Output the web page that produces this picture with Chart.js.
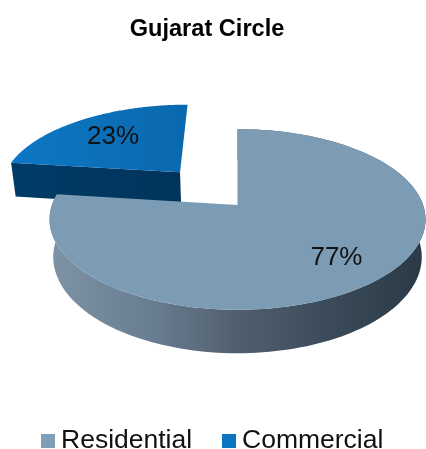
<!DOCTYPE html>
<html><head><meta charset="utf-8">
<script src="https://cdn.jsdelivr.net/npm/chart.js@4"></script>
<style>html,body{margin:0;padding:0;background:#fff}#w{width:426px;height:449px;position:relative}canvas{display:block}</style>
</head><body><div id="w"><canvas id="c" width="426" height="449"></canvas></div>
<script>
const categories = ['Residential','Commercial'];
const values = [77,23];
const percentLabels = ['77%','23%'];
const colors = ['#7b9cb4','#0a6fba'];
const legendColors = ['#7f9fb8','#0a75c2'];
const chartTitle = 'Gujarat Circle';

// projected-disc geometry of the 3D pie
const view = {cx:237.5, cy:205, rx:185.6, ry:88, persp:0.16, depth:36.5, baseScale:0.98};
const explode = [0, 0.46];
const labelSpot = [0.735, 0.66];

function project(u,v,t){
  const k = 1 - view.persp*v;
  const sx = 1 - (1-view.baseScale)*t;
  return [view.cx + view.rx*u*sx/k, view.cy + (view.ry*v + view.depth*t)/k];
}
function wedge(el,i){
  const mid=(el.startAngle+el.endAngle)/2, d=explode[i];
  const a=[Math.cos(mid)*d+(i===1?-0.025:0), Math.sin(mid)*d+(i===1?-0.05:0)];
  const rim=[]; const n=160;
  for(let j=0;j<=n;j++){
    const th=el.startAngle+(el.endAngle-el.startAngle)*j/n;
    rim.push([a[0]+Math.cos(th),a[1]+Math.sin(th)]);
  }
  return {a,rim};
}
function poly(ctx,pts,fill){
  ctx.beginPath();pts.forEach((p,k)=>k?ctx.lineTo(p[0],p[1]):ctx.moveTo(p[0],p[1]));ctx.closePath();ctx.fillStyle=fill;ctx.fill();
}
const pie3d = {
  id:'pie3d',
  beforeDatasetsDraw(chart){
    const ctx=chart.ctx, arcs=chart.getDatasetMeta(0).data;
    const P=(q,t)=>project(q[0],q[1],t);
    // commercial slice: front cut face, then top
    {
      const w=wedge(arcs[1],1), first=w.rim[0];
      const g=ctx.createLinearGradient(10,0,183,0);
      g.addColorStop(0,'#003b68');g.addColorStop(1,'#02345a');
      poly(ctx,[P(w.a,0),P(first,0),P(first,1),P(w.a,1)],g);
      const tg=ctx.createLinearGradient(10,0,183,0);
      tg.addColorStop(0,'#0d77c4');tg.addColorStop(1,'#0a69ae');
      poly(ctx,[P(w.a,0),...w.rim.map(q=>P(q,0))],tg);
    }
    // residential slice: outer wall, cut face, top
    {
      const w=wedge(arcs[0],0), first=w.rim[0];
      const g=ctx.createLinearGradient(50,0,426,0);
      g.addColorStop(0,'#7f93a6');g.addColorStop(0.28,'#687c90');g.addColorStop(0.5,'#505f6e');
      g.addColorStop(0.75,'#3a4a58');g.addColorStop(1,'#2a3945');
      poly(ctx,[...w.rim.map(q=>P(q,0)),...w.rim.slice().reverse().map(q=>P(q,1))],g);
      poly(ctx,[P(w.a,0),P(first,0),P(first,1),P(w.a,1)],'#3b4c5a');
      poly(ctx,[P(w.a,0),...w.rim.map(q=>P(q,0))],colors[0]);
    }
    // percentage labels
    ctx.save();
    ctx.fillStyle='#111';ctx.font='26px "Liberation Sans"';ctx.textAlign='center';ctx.textBaseline='middle';
    arcs.forEach((el,i)=>{
      const w=wedge(el,i), mid=(el.startAngle+el.endAngle)/2, r=labelSpot[i];
      const p=project(w.a[0]+Math.cos(mid)*r,w.a[1]+Math.sin(mid)*r,0);
      ctx.fillText(percentLabels[i],p[0],p[1]);
    });
    ctx.restore();
    // legend
    ctx.save();
    ctx.font='26.5px "Liberation Sans"';ctx.textBaseline='middle';ctx.textAlign='left';
    const lx=[41,222];
    categories.forEach((c,i)=>{
      ctx.fillStyle=legendColors[i];ctx.fillRect(lx[i],434,14,14);
      ctx.fillStyle='#111';ctx.fillText(c,lx[i]+20,441);
    });
    ctx.restore();
    return false;
  }
};
new Chart(document.getElementById('c'),{
  type:'pie',
  data:{labels:categories,datasets:[{data:values,backgroundColor:colors,borderWidth:0}]},
  options:{
    responsive:false,animation:false,rotation:0,
    layout:{padding:{right:12}},
    plugins:{
      title:{display:true,text:chartTitle,color:'#000',font:{family:'"Liberation Sans"',size:23.6,weight:'bold'},padding:{top:15,bottom:10}},
      legend:{display:false},
      tooltip:{enabled:false}
    }
  },
  plugins:[pie3d]
});
</script></body></html>
